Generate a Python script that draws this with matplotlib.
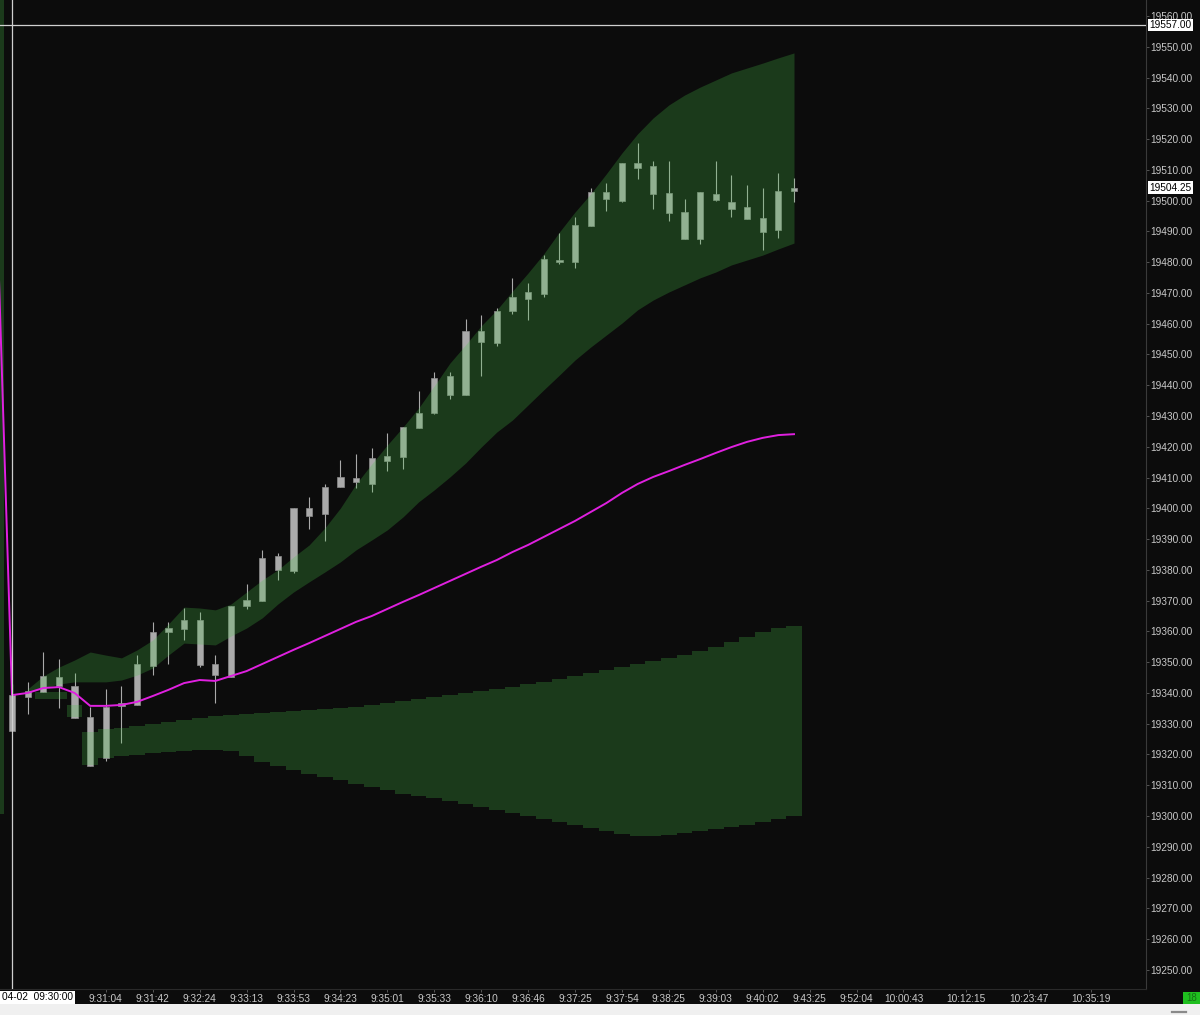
"""Intraday NQ 1-min style chart: candles, VWAP and the two deviation bands."""

import numpy as np
import matplotlib

matplotlib.use("Agg")
import matplotlib.pyplot as plt
import matplotlib.transforms as mtransforms
from matplotlib.patches import Rectangle

BG = "#0c0c0c"
BAND = "#48c448"
VWAP = "#e020e0"
CANDLE = "#aaaaaa"
TXT = "#c8c8c8"

# ---- candles (bar index 0..50) ------------------------------------------
opens = [19327.5, 19338.75, 19340.25, 19342.25, 19342.25, 19332.25, 19319.0, 19335.75,
         19336.0, 19348.75, 19359.75, 19360.75, 19363.75, 19349.5, 19345.25, 19368.25,
         19370.0, 19380.0, 19379.5, 19397.5, 19398.25, 19407.0, 19408.5, 19408.0,
         19415.5, 19416.75, 19426.0, 19431.0, 19436.75, 19436.75, 19454.0, 19453.75,
         19464.0, 19468.0, 19469.75, 19480.0, 19480.0, 19491.75, 19500.5, 19500.0,
         19510.5, 19511.25, 19502.5, 19496.25, 19487.5, 19500.25, 19499.5, 19498.0,
         19494.5, 19490.5, 19503.0]
highs = [19343.0, 19343.5, 19353.25, 19351.0, 19346.5, 19335.5, 19341.25, 19342.25,
         19352.25, 19363.0, 19363.0, 19367.5, 19366.25, 19352.25, 19368.25, 19375.5,
         19386.5, 19385.5, 19400.0, 19403.75, 19408.0, 19415.75, 19417.75, 19419.5,
         19424.5, 19426.5, 19438.0, 19444.25, 19444.25, 19461.5, 19462.75, 19465.0,
         19475.0, 19473.25, 19482.25, 19489.5, 19494.75, 19504.0, 19505.75, 19512.25,
         19518.75, 19513.0, 19513.0, 19500.5, 19502.75, 19513.0, 19508.25, 19505.0,
         19504.0, 19509.0, 19507.5]
lows = [19327.5, 19333.25, 19340.25, 19335.0, 19332.0, 19316.25, 19318.0, 19323.75,
        19336.0, 19345.75, 19349.5, 19357.25, 19348.5, 19336.75, 19345.25, 19367.25,
        19370.0, 19376.75, 19379.0, 19393.25, 19389.5, 19407.0, 19406.5, 19405.25,
        19412.0, 19412.75, 19426.0, 19430.75, 19435.5, 19436.75, 19443.0, 19452.75,
        19463.25, 19461.25, 19468.75, 19479.5, 19478.0, 19491.75, 19496.5, 19499.5,
        19507.0, 19497.25, 19493.5, 19487.5, 19486.0, 19500.0, 19494.75, 19494.0,
        19484.0, 19488.0, 19499.5]
closes = [19339.25, 19340.5, 19345.5, 19345.25, 19332.0, 19316.25, 19335.5, 19336.75,
          19349.5, 19359.75, 19361.0, 19363.75, 19349.0, 19345.75, 19368.25, 19370.25,
          19384.0, 19384.5, 19400.0, 19400.0, 19407.0, 19410.25, 19410.0, 19416.5,
          19417.0, 19426.5, 19431.0, 19442.5, 19443.0, 19457.5, 19457.5, 19464.0,
          19468.75, 19470.25, 19481.0, 19480.75, 19492.0, 19502.75, 19502.75, 19512.25,
          19512.25, 19502.25, 19496.0, 19487.5, 19502.75, 19502.25, 19497.25, 19494.0,
          19489.75, 19503.0, 19504.25]

# ---- VWAP, first value is the previous session's last bar (index -1) -------
vwap_prev = 19502.0
vwap = [19339.3, 19340.0, 19341.6, 19341.9, 19340.0, 19335.8, 19335.8, 19336.1,
        19337.1, 19339.0, 19341.0, 19343.2, 19344.2, 19343.9, 19345.5, 19347.1,
        19349.4, 19351.7, 19354.0, 19356.2, 19358.5, 19360.8, 19363.1, 19365.0,
        19367.3, 19369.6, 19371.8, 19374.1, 19376.4, 19378.7, 19381.0, 19383.2,
        19385.8, 19388.1, 19390.7, 19393.3, 19395.9, 19398.8, 19401.7, 19405.0,
        19407.9, 19410.2, 19412.1, 19414.1, 19416.0, 19418.0, 19419.9, 19421.6,
        19422.9, 19423.8, 19424.1]

# ---- upper band (bars 1..50) ---------------------------------------------
up_hi = [19341.3, 19345.5, 19348.4, 19350.7, 19353.3, 19352.3, 19351.4, 19354.0,
         19357.2, 19362.4, 19367.9, 19367.6, 19367.0, 19368.9, 19372.8, 19376.7,
         19380.0, 19384.2, 19388.1, 19393.6, 19400.1, 19407.9, 19414.4, 19420.6,
         19426.4, 19432.6, 19439.8, 19447.2, 19453.1, 19459.3, 19464.5, 19470.6,
         19476.5, 19482.7, 19489.8, 19496.3, 19502.2, 19508.7, 19515.5, 19521.7,
         19526.9, 19531.1, 19534.3, 19536.9, 19539.2, 19541.5, 19543.1, 19544.7,
         19546.4, 19548.0]
up_lo = [19340.0, 19341.6, 19342.9, 19343.6, 19343.6, 19343.6, 19344.2, 19345.8,
         19348.1, 19352.3, 19356.2, 19355.9, 19355.6, 19358.5, 19361.1, 19364.4,
         19368.9, 19372.8, 19376.1, 19379.3, 19382.6, 19386.5, 19389.7, 19393.0,
         19397.2, 19402.1, 19406.0, 19410.2, 19414.7, 19419.9, 19424.8, 19428.7,
         19433.6, 19438.5, 19443.3, 19448.2, 19452.4, 19456.3, 19460.2, 19464.5,
         19467.7, 19470.3, 19472.6, 19474.9, 19476.8, 19479.1, 19480.7, 19482.3,
         19484.3, 19486.2]

# ---- lower band, drawn as steps (bars 2..50) -------------------------------
lo_top = [19340.3, 19340.3, 19336.1, 19327.3, 19328.3, 19328.6, 19329.3, 19329.9,
          19330.6, 19331.2, 19331.9, 19332.5, 19332.8, 19333.2, 19333.5, 19333.8,
          19334.1, 19334.5, 19334.8, 19335.1, 19335.4, 19336.1, 19336.7, 19337.4,
          19338.0, 19338.7, 19339.3, 19340.0, 19340.6, 19341.3, 19341.9, 19342.9,
          19343.6, 19344.5, 19345.5, 19346.5, 19347.5, 19348.4, 19349.4, 19350.4,
          19351.4, 19352.3, 19353.6, 19354.9, 19356.6, 19358.2, 19359.8, 19361.1,
          19361.8]
lo_bot = [19338.0, 19338.0, 19332.2, 19316.6, 19318.9, 19319.5, 19319.8, 19320.5,
          19320.8, 19321.1, 19321.5, 19321.5, 19321.1, 19319.5, 19317.6, 19316.3,
          19315.0, 19313.7, 19312.7, 19311.7, 19310.4, 19309.4, 19308.5, 19307.2,
          19306.5, 19305.9, 19304.9, 19303.9, 19302.9, 19302.0, 19301.0, 19300.0,
          19299.0, 19298.1, 19297.1, 19296.1, 19295.1, 19294.2, 19293.5, 19293.5,
          19293.8, 19294.5, 19295.1, 19295.8, 19296.4, 19297.1, 19298.1, 19299.0,
          19300.0]

# previous session band, only a sliver of it shows at the left edge
prev_band = (19300.5, 19570.0)

# ---- time axis ------------------------------------------------------------
tick_bars = [6, 9, 12, 15, 18, 21, 24, 27, 30, 33, 36, 39, 42, 45, 48, 51, 54, 57, 61, 65, 69]
tick_labels = ["9:31:04", "9:31:42", "9:32:24", "9:33:13", "9:33:53", "9:34:23", "9:35:01",
               "9:35:33", "9:36:10", "9:36:46", "9:37:25", "9:37:54", "9:38:25", "9:39:03",
               "9:40:02", "9:43:25", "9:52:04", "10:00:43", "10:12:15", "10:23:47", "10:35:19"]
first_label = "04-02  09:30:00"
cursor_price = 19557.00
last_price = 19504.25

W, H = 1200, 1015
PLOT_R, PLOT_B = 1146, 989

plt.rcParams["font.family"] = ["Liberation Sans", "DejaVu Sans"]
fig = plt.figure(figsize=(W / 100, H / 100), dpi=100, facecolor=BG)
ax = fig.add_axes([0, 1 - PLOT_B / H, PLOT_R / W, PLOT_B / H], facecolor=BG)

n = len(closes)
idx = np.arange(n)
o = np.array(opens)
c = np.array(closes)

# candles
ax.vlines(idx, lows, highs, color=CANDLE, lw=0.8, zorder=2)
body_lo = np.minimum(o, c)
body_h = np.maximum(np.abs(c - o), 0.35)
ax.bar(idx, body_h, bottom=body_lo, width=0.4, color=CANDLE, edgecolor="#8c8c8c",
       lw=0.5, zorder=2)
ax.vlines(0, closes[0], highs[0], color="#19c819", lw=0.9, zorder=2)

# bands
ax.fill_between(np.arange(1, n), up_lo, up_hi, color=BAND, alpha=0.25, lw=0, zorder=3)
sb = np.arange(2, n)
xs = np.column_stack([sb - 0.5, sb + 0.5]).ravel()
ax.fill_between(xs, np.repeat(lo_bot, 2), np.repeat(lo_top, 2), color=BAND, alpha=0.25,
                lw=0, zorder=3)
ax.fill_between([-1.5, -0.5], prev_band[0], prev_band[1], color=BAND, alpha=0.25, lw=0,
                zorder=3)

# vwap
ax.plot(np.arange(-1, n), [vwap_prev] + vwap, color=VWAP, lw=1.4, zorder=4)

# crosshair
ax.axhline(cursor_price, color="#d0d0d0", lw=0.9, zorder=6)
ax.axvline(0, color="#cfcfcf", lw=0.9, zorder=6)

ax.set_xlim(-12 / 15.64, (PLOT_R - 12) / 15.64)
ax.set_ylim(19560 - (PLOT_B - 16) / 3.077, 19560 + 16 / 3.077)

for side in ("left", "top"):
    ax.spines[side].set_visible(False)
ax.spines["right"].set_color("#3a3a3a")
ax.spines["bottom"].set_color("#2a2a2a")

ax.yaxis.tick_right()
ax.set_yticks(np.arange(19250, 19561, 10))
ax.set_yticklabels([f"{v:.2f}" for v in np.arange(19250, 19561, 10)])
ax.tick_params(axis="y", length=2.2, width=0.7, pad=1.2, color="#555555",
               labelcolor=TXT, labelsize=7.3)
ax.set_xticks(tick_bars)
ax.set_xticklabels(tick_labels)
ax.tick_params(axis="x", length=2, width=0.7, pad=1.5, color="#555555",
               labelcolor=TXT, labelsize=7.3)

# price flags on the right axis
yflag = mtransforms.blended_transform_factory(ax.transAxes, ax.transData)
for price in (cursor_price, last_price):
    ax.text(1.0028, price, f"{price:.2f}", transform=yflag, ha="left", va="center",
            fontsize=7.3, color="black", zorder=10, clip_on=False,
            bbox=dict(boxstyle="square,pad=0.12", fc="white", ec="none"))

# cursor time flag
fig.text(2 / W, 1 - 997.5 / H, first_label, ha="left", va="center", fontsize=7.3,
         color="black", zorder=10,
         bbox=dict(boxstyle="square,pad=0.15", fc="white", ec="none"))

# status strip at the very bottom
fig.patches.append(Rectangle((0, 0), 1, 11 / H, transform=fig.transFigure,
                             fc="#f0f0f0", ec="none", zorder=1))
fig.lines.append(plt.Line2D([1172 / W, 1186 / W], [3.5 / H, 3.5 / H],
                            transform=fig.transFigure, color="#8a8a8a", lw=1.6))
fig.patches.append(Rectangle((1183 / W, 11 / H), 17 / W, 12 / H, transform=fig.transFigure,
                             fc="#1fbf1f", ec="none", zorder=2))
fig.text(1191.5 / W, 17 / H, "18", ha="center", va="center", fontsize=7, color="#157015")

fig.savefig("out.png", dpi=100, facecolor=BG)
